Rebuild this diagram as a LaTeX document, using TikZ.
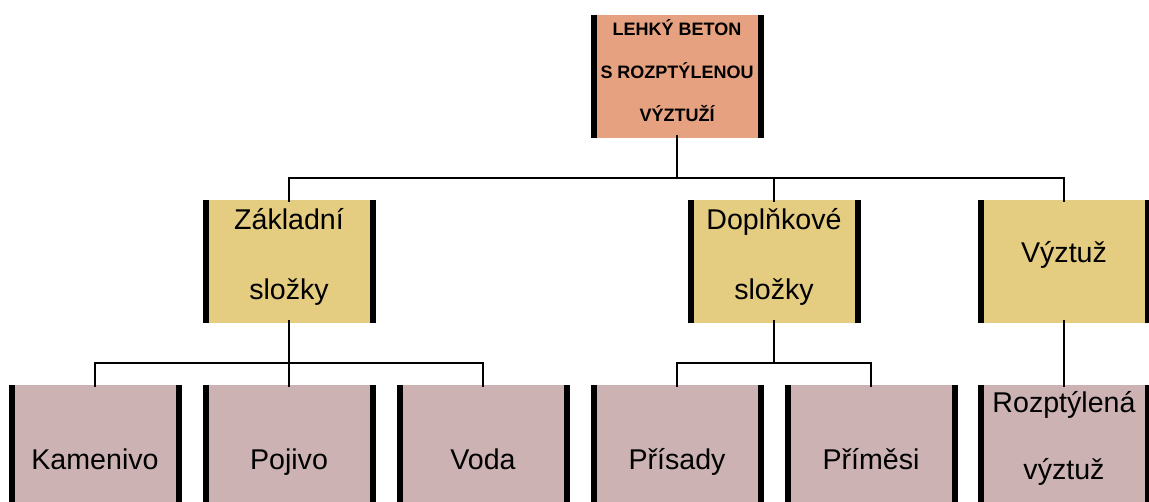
\documentclass[tikz,border=0pt]{standalone}
\usepackage{fontspec}
\setmainfont{Liberation Sans}
\definecolor{topc}{RGB}{229,161,128}
\definecolor{midc}{RGB}{228,204,128}
\definecolor{botc}{RGB}{204,178,179}
\begin{document}
\begin{tikzpicture}[x=1pt,y=-1pt,
  boxn/.style={minimum width=173pt,minimum height=123pt,inner sep=0pt,outer sep=0pt,anchor=north},
  topbox/.style={boxn,fill=topc},
  midbox/.style={boxn,fill=midc},
  botbox/.style={boxn,fill=botc},
  bar/.style={line width=6pt,black},
  conn/.style={line width=1.8pt,black},
  toplbl/.style={anchor=base,inner sep=0pt,font=\fontsize{18}{20}\selectfont\bfseries},
  lbl/.style={anchor=base,inner sep=0pt,font=\fontsize{28.6}{32}\selectfont}]
\useasboundingbox (0,0) rectangle (1149,502);
% boxes
\node[topbox] (top) at (677,15) {};
\node[midbox] (m1) at (289,200) {};
\node[midbox] (m2) at (774,200) {};
\node[midbox] (m3) at (1064,200) {};
\node[botbox] (b1) at (95,385) {};
\node[botbox] (b2) at (289,385) {};
\node[botbox] (b3) at (483,385) {};
\node[botbox] (b4) at (677,385) {};
\node[botbox] (b5) at (871,385) {};
\node[botbox] (b6) at (1064,385) {};
% side bars
\foreach \n in {top,m1,m2,m3,b1,b2,b3,b4,b5,b6}{
  \draw[bar] ([xshift=3pt]\n.north west) -- ([xshift=3pt]\n.south west);
  \draw[bar] ([xshift=-3pt]\n.north east) -- ([xshift=-3pt]\n.south east);
}
% labels
\node[toplbl] (t1) at (677,36) {LEHKÝ BETON};
\node[toplbl] (t2) at (677,79) {S ROZPTÝLENOU};
\node[toplbl] (t3) at (677,122) {VÝZTUŽÍ};
\node[lbl] (l1a) at (289,230) {Základní};
\node[lbl] (l1b) at (289,300) {složky};
\node[lbl] (l2a) at (774,230) {Doplňkové};
\node[lbl] (l2b) at (774,300) {složky};
\node[lbl] (l3) at (1064,263) {Výztuž};
\node[lbl] (k1) at (95,470) {Kamenivo};
\node[lbl] (k2) at (289,470) {Pojivo};
\node[lbl] (k3) at (483,470) {Voda};
\node[lbl] (k4) at (677,470) {Přísady};
\node[lbl] (k5) at (871,470) {Příměsi};
\node[lbl] (k6a) at (1064,413) {Rozptýlená};
\node[lbl] (k6b) at (1064,479) {výztuž};
% connectors
\coordinate (bus1) at (677,178);
\coordinate (bus2) at (289,363);
\coordinate (bus3) at (774,363);
\draw[conn] ([yshift=3pt]top.south) -- (top.south |- bus1);
\draw[conn] ([yshift=-2pt]m1.north) -- (m1.north |- bus1) -- (m3.north |- bus1) -- ([yshift=-2pt]m3.north);
\draw[conn] ([yshift=-2pt]m2.north) -- (m2.north |- bus1);
\draw[conn] ([yshift=-2pt]b1.north) -- (b1.north |- bus2) -- (b3.north |- bus2) -- ([yshift=-2pt]b3.north);
\draw[conn] ([yshift=3pt]m1.south) -- ([yshift=-2pt]b2.north);
\draw[conn] ([yshift=-2pt]b4.north) -- (b4.north |- bus3) -- (b5.north |- bus3) -- ([yshift=-2pt]b5.north);
\draw[conn] ([yshift=3pt]m2.south) -- (m2.south |- bus3);
\draw[conn] ([yshift=3pt]m3.south) -- ([yshift=-2pt]b6.north);
\end{tikzpicture}
\end{document}
